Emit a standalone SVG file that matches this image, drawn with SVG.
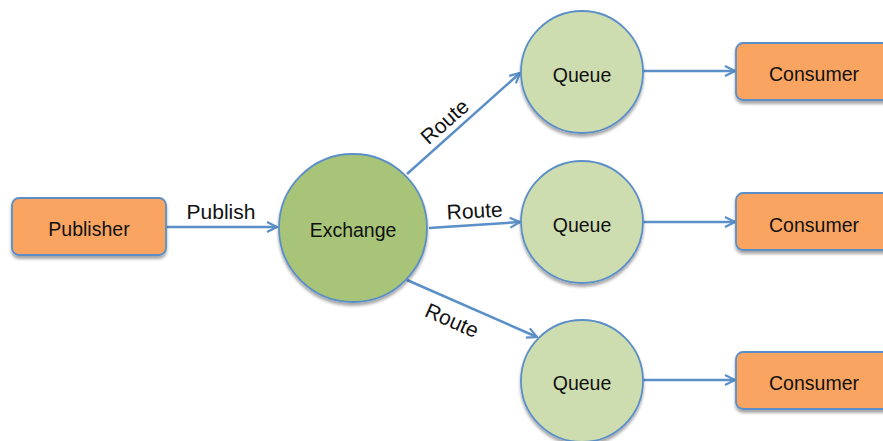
<svg xmlns="http://www.w3.org/2000/svg" width="883" height="441" viewBox="0 0 883 441">
  <defs>
    <filter id="sh" x="-20%" y="-20%" width="140%" height="150%">
      <feGaussianBlur in="SourceAlpha" stdDeviation="1.5"/>
      <feOffset dx="0" dy="2.5" result="b"/>
      <feComponentTransfer><feFuncA type="linear" slope="0.35"/></feComponentTransfer>
      <feMerge><feMergeNode/><feMergeNode in="SourceGraphic"/></feMerge>
    </filter>
    <marker id="arr" viewBox="0 0 12 12" refX="11" refY="6" markerWidth="12" markerHeight="12" markerUnits="userSpaceOnUse" orient="auto">
      <path d="M1,1 L11,6 L1,11" fill="none" stroke="#5B8FC7" stroke-width="2.2" stroke-linejoin="miter"/>
    </marker>
  </defs>
  <style>
    .box { fill: #F9A461; stroke: #5B8FC7; stroke-width: 1.8; filter: url(#sh); }
    .ex { fill: #A7C478; stroke: #5B8FC7; stroke-width: 1.8; filter: url(#sh); }
    .q { fill: #CDDDB0; stroke: #5B8FC7; stroke-width: 1.8; filter: url(#sh); }
    .lbl { font-family: "Liberation Sans", Arial, sans-serif; font-size: 19.5px; fill: #111; text-anchor: middle; }
    .el { font-family: "Liberation Sans", Arial, sans-serif; font-size: 21px; fill: #111; text-anchor: middle; }
    .c { stroke: #5B8FC7; stroke-width: 2.5; fill: none; marker-end: url(#arr); }
  </style>
  <rect width="883" height="441" fill="#ffffff"/>

  <g id="connectors">
    <line class="c" x1="166" y1="227" x2="277" y2="227"/>
    <text class="el" x="221" y="219">Publish</text>
    <line class="c" x1="407" y1="174" x2="520" y2="73"/>
    <text class="el" transform="translate(449.5,127) rotate(-41.5)" x="0" y="0">Route</text>
    <line class="c" x1="429" y1="228" x2="520" y2="222"/>
    <text class="el" transform="translate(475,218) rotate(-3)" x="0" y="0">Route</text>
    <line class="c" x1="407" y1="280" x2="537" y2="337"/>
    <text class="el" transform="translate(449,327) rotate(23.9)" x="0" y="0">Route</text>
    <line class="c" x1="643" y1="71" x2="735" y2="71"/>
    <line class="c" x1="643" y1="222" x2="735" y2="222"/>
    <line class="c" x1="643" y1="380" x2="735" y2="380"/>
  </g>

  <g id="publisher">
    <rect class="box" x="12" y="198" width="154" height="57" rx="7"/>
    <text class="lbl" x="89" y="236">Publisher</text>
  </g>
  <g id="exchange">
    <circle class="ex" cx="353" cy="228" r="74"/>
    <text class="lbl" x="353" y="237">Exchange</text>
  </g>
  <g id="queue1">
    <circle class="q" cx="582" cy="72" r="61"/>
    <text class="lbl" x="582" y="82">Queue</text>
  </g>
  <g id="queue2">
    <circle class="q" cx="582" cy="222" r="61"/>
    <text class="lbl" x="582" y="232">Queue</text>
  </g>
  <g id="queue3">
    <circle class="q" cx="582" cy="381" r="61"/>
    <text class="lbl" x="582" y="390">Queue</text>
  </g>
  <g id="consumer1">
    <rect class="box" x="736" y="43" width="160" height="57" rx="7"/>
    <text class="lbl" x="814" y="81">Consumer</text>
  </g>
  <g id="consumer2">
    <rect class="box" x="736" y="193" width="160" height="57" rx="7"/>
    <text class="lbl" x="814" y="232">Consumer</text>
  </g>
  <g id="consumer3">
    <rect class="box" x="736" y="352" width="160" height="57" rx="7"/>
    <text class="lbl" x="814" y="390">Consumer</text>
  </g>
</svg>
